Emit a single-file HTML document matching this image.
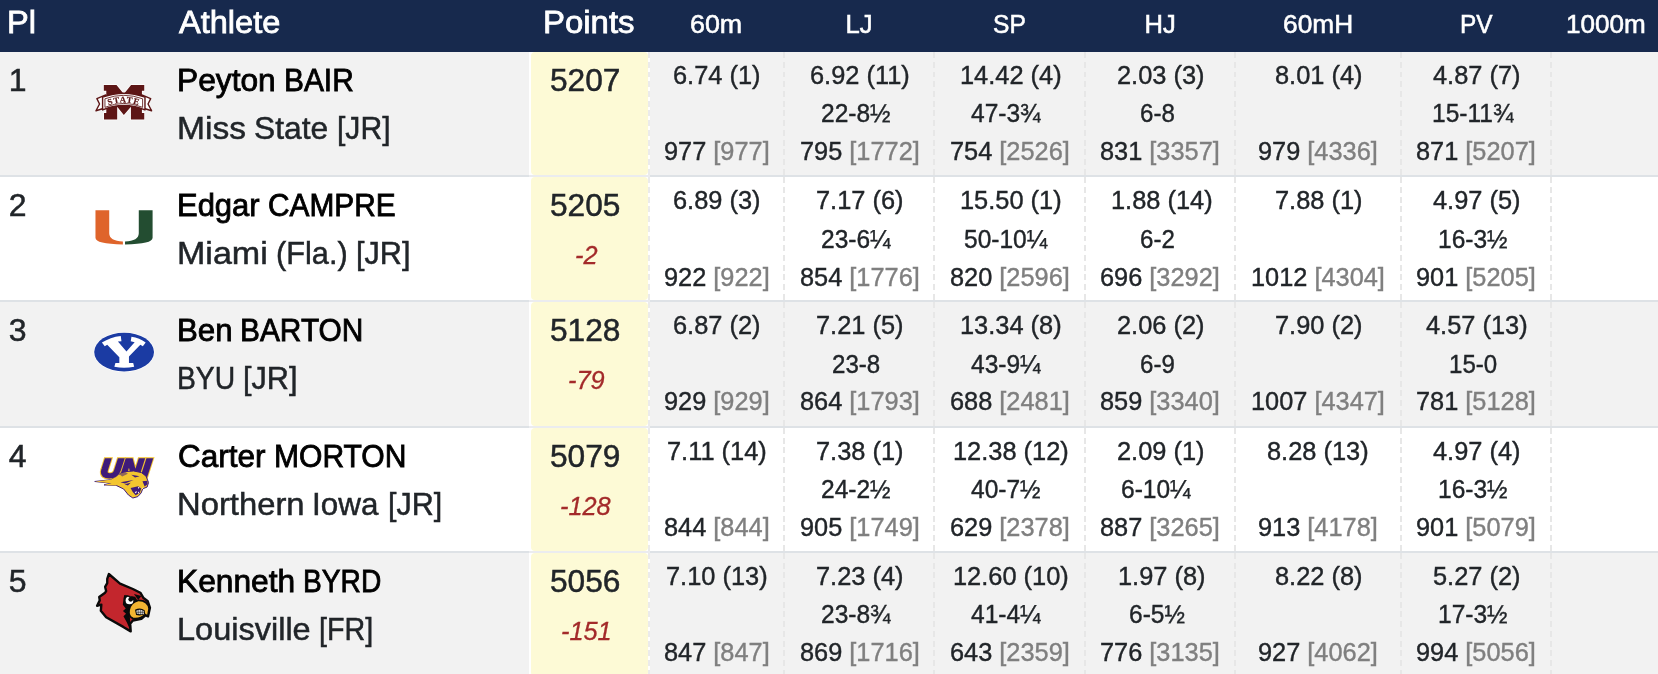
<!DOCTYPE html>
<html lang="en"><head><meta charset="utf-8"><title>Heptathlon Results</title>
<style>
*{margin:0;padding:0;box-sizing:border-box}
html,body{width:1658px;height:674px;overflow:hidden;background:#fff}
body{position:relative;font-family:"Liberation Sans",sans-serif;color:#212529}
.hd{position:absolute;left:0;top:0;width:1658px;height:52px;background:#17294d}
.row{position:absolute;left:0;width:1658px}
.odd{background:#f2f2f2}
.sep{position:absolute;left:0;width:1658px;height:2px;background:#dee2e6}
.pc{position:absolute;left:529px;width:121px;background:#fff}
.pc i{position:absolute;left:2px;right:2px;top:0;bottom:0;background:#fdfad6;border-radius:4px}
.dsh{position:absolute;width:2px}
.sep2{position:absolute;left:529px;width:121px;height:2px;background:#ebecef}
.t{position:absolute;white-space:nowrap;line-height:1;transform-origin:0 50%}
.h{font-size:32px;color:#fff;-webkit-text-stroke:0.8px #fff}
.he{font-size:25.6px;color:#fff;-webkit-text-stroke:0.55px #fff}
.n{font-size:32px;color:#000;-webkit-text-stroke:0.85px #000}
.d{font-size:32px;-webkit-text-stroke:0.5px #212529}
.e{font-size:25.6px;-webkit-text-stroke:0.4px #212529}
.g{color:#7f7f7f;-webkit-text-stroke:0.4px #7f7f7f}
.df{font-size:25.6px;font-style:italic;color:#a32a2a;-webkit-text-stroke:0.3px #a32a2a}
.lg{position:absolute;overflow:visible;will-change:transform}
.tx{position:absolute;left:0;top:0;width:1658px;height:674px;will-change:transform}
</style></head>
<body>
<div class="hd"></div>
<div class="row odd" style="top:52px;height:124px"></div>
<div class="row" style="top:176px;height:125px"></div>
<div class="row odd" style="top:301px;height:126px"></div>
<div class="row" style="top:427px;height:125px"></div>
<div class="row odd" style="top:552px;height:122px"></div>
<div class="sep" style="top:175px"></div>
<div class="sep" style="top:300px"></div>
<div class="sep" style="top:426px"></div>
<div class="sep" style="top:551px"></div>
<div class="pc" style="top:52px;height:123px"><i></i></div>
<div class="pc" style="top:177px;height:123px"><i></i></div>
<div class="pc" style="top:302px;height:124px"><i></i></div>
<div class="pc" style="top:428px;height:123px"><i></i></div>
<div class="pc" style="top:553px;height:123px"><i></i></div>
<div class="dsh" style="left:648px;top:52px;height:123px;background:repeating-linear-gradient(to bottom,#ebebeb 0,#ebebeb 6px,transparent 6px,transparent 9.750px)"></div>
<div class="dsh" style="left:648px;top:177px;height:123px;background:repeating-linear-gradient(to bottom,#ebebeb 0,#ebebeb 6px,transparent 6px,transparent 9.750px)"></div>
<div class="dsh" style="left:648px;top:302px;height:124px;background:repeating-linear-gradient(to bottom,#ebebeb 0,#ebebeb 6px,transparent 6px,transparent 9.833px)"></div>
<div class="dsh" style="left:648px;top:428px;height:123px;background:repeating-linear-gradient(to bottom,#ebebeb 0,#ebebeb 6px,transparent 6px,transparent 9.750px)"></div>
<div class="dsh" style="left:648px;top:553px;height:123px;background:repeating-linear-gradient(to bottom,#ebebeb 0,#ebebeb 6px,transparent 6px,transparent 9.750px)"></div>
<div class="dsh" style="left:783px;top:52px;height:123px;background:repeating-linear-gradient(to bottom,#e7e7e7 0,#e7e7e7 6px,transparent 6px,transparent 9.750px)"></div>
<div class="dsh" style="left:783px;top:177px;height:123px;background:repeating-linear-gradient(to bottom,#e7e7e7 0,#e7e7e7 6px,transparent 6px,transparent 9.750px)"></div>
<div class="dsh" style="left:783px;top:302px;height:124px;background:repeating-linear-gradient(to bottom,#e7e7e7 0,#e7e7e7 6px,transparent 6px,transparent 9.833px)"></div>
<div class="dsh" style="left:783px;top:428px;height:123px;background:repeating-linear-gradient(to bottom,#e7e7e7 0,#e7e7e7 6px,transparent 6px,transparent 9.750px)"></div>
<div class="dsh" style="left:783px;top:553px;height:123px;background:repeating-linear-gradient(to bottom,#e7e7e7 0,#e7e7e7 6px,transparent 6px,transparent 9.750px)"></div>
<div class="dsh" style="left:933px;top:52px;height:123px;background:repeating-linear-gradient(to bottom,#e7e7e7 0,#e7e7e7 6px,transparent 6px,transparent 9.750px)"></div>
<div class="dsh" style="left:933px;top:177px;height:123px;background:repeating-linear-gradient(to bottom,#e7e7e7 0,#e7e7e7 6px,transparent 6px,transparent 9.750px)"></div>
<div class="dsh" style="left:933px;top:302px;height:124px;background:repeating-linear-gradient(to bottom,#e7e7e7 0,#e7e7e7 6px,transparent 6px,transparent 9.833px)"></div>
<div class="dsh" style="left:933px;top:428px;height:123px;background:repeating-linear-gradient(to bottom,#e7e7e7 0,#e7e7e7 6px,transparent 6px,transparent 9.750px)"></div>
<div class="dsh" style="left:933px;top:553px;height:123px;background:repeating-linear-gradient(to bottom,#e7e7e7 0,#e7e7e7 6px,transparent 6px,transparent 9.750px)"></div>
<div class="dsh" style="left:1084px;top:52px;height:123px;background:repeating-linear-gradient(to bottom,#e7e7e7 0,#e7e7e7 6px,transparent 6px,transparent 9.750px)"></div>
<div class="dsh" style="left:1084px;top:177px;height:123px;background:repeating-linear-gradient(to bottom,#e7e7e7 0,#e7e7e7 6px,transparent 6px,transparent 9.750px)"></div>
<div class="dsh" style="left:1084px;top:302px;height:124px;background:repeating-linear-gradient(to bottom,#e7e7e7 0,#e7e7e7 6px,transparent 6px,transparent 9.833px)"></div>
<div class="dsh" style="left:1084px;top:428px;height:123px;background:repeating-linear-gradient(to bottom,#e7e7e7 0,#e7e7e7 6px,transparent 6px,transparent 9.750px)"></div>
<div class="dsh" style="left:1084px;top:553px;height:123px;background:repeating-linear-gradient(to bottom,#e7e7e7 0,#e7e7e7 6px,transparent 6px,transparent 9.750px)"></div>
<div class="dsh" style="left:1234px;top:52px;height:123px;background:repeating-linear-gradient(to bottom,#e7e7e7 0,#e7e7e7 6px,transparent 6px,transparent 9.750px)"></div>
<div class="dsh" style="left:1234px;top:177px;height:123px;background:repeating-linear-gradient(to bottom,#e7e7e7 0,#e7e7e7 6px,transparent 6px,transparent 9.750px)"></div>
<div class="dsh" style="left:1234px;top:302px;height:124px;background:repeating-linear-gradient(to bottom,#e7e7e7 0,#e7e7e7 6px,transparent 6px,transparent 9.833px)"></div>
<div class="dsh" style="left:1234px;top:428px;height:123px;background:repeating-linear-gradient(to bottom,#e7e7e7 0,#e7e7e7 6px,transparent 6px,transparent 9.750px)"></div>
<div class="dsh" style="left:1234px;top:553px;height:123px;background:repeating-linear-gradient(to bottom,#e7e7e7 0,#e7e7e7 6px,transparent 6px,transparent 9.750px)"></div>
<div class="dsh" style="left:1400px;top:52px;height:123px;background:repeating-linear-gradient(to bottom,#e7e7e7 0,#e7e7e7 6px,transparent 6px,transparent 9.750px)"></div>
<div class="dsh" style="left:1400px;top:177px;height:123px;background:repeating-linear-gradient(to bottom,#e7e7e7 0,#e7e7e7 6px,transparent 6px,transparent 9.750px)"></div>
<div class="dsh" style="left:1400px;top:302px;height:124px;background:repeating-linear-gradient(to bottom,#e7e7e7 0,#e7e7e7 6px,transparent 6px,transparent 9.833px)"></div>
<div class="dsh" style="left:1400px;top:428px;height:123px;background:repeating-linear-gradient(to bottom,#e7e7e7 0,#e7e7e7 6px,transparent 6px,transparent 9.750px)"></div>
<div class="dsh" style="left:1400px;top:553px;height:123px;background:repeating-linear-gradient(to bottom,#e7e7e7 0,#e7e7e7 6px,transparent 6px,transparent 9.750px)"></div>
<div class="dsh" style="left:1550px;top:52px;height:123px;background:repeating-linear-gradient(to bottom,#e7e7e7 0,#e7e7e7 6px,transparent 6px,transparent 9.750px)"></div>
<div class="dsh" style="left:1550px;top:177px;height:123px;background:repeating-linear-gradient(to bottom,#e7e7e7 0,#e7e7e7 6px,transparent 6px,transparent 9.750px)"></div>
<div class="dsh" style="left:1550px;top:302px;height:124px;background:repeating-linear-gradient(to bottom,#e7e7e7 0,#e7e7e7 6px,transparent 6px,transparent 9.833px)"></div>
<div class="dsh" style="left:1550px;top:428px;height:123px;background:repeating-linear-gradient(to bottom,#e7e7e7 0,#e7e7e7 6px,transparent 6px,transparent 9.750px)"></div>
<div class="dsh" style="left:1550px;top:553px;height:123px;background:repeating-linear-gradient(to bottom,#e7e7e7 0,#e7e7e7 6px,transparent 6px,transparent 9.750px)"></div>
<div class="sep2" style="top:175px"></div>
<div class="sep2" style="top:300px"></div>
<div class="sep2" style="top:426px"></div>
<div class="sep2" style="top:551px"></div>
<svg class="lg" style="left:88px;top:78px" width="72" height="48" viewBox="0 0 1011 674"><g stroke-linejoin="round">
<path d="M222,100H400L503,225L605,100H790V180H757V490H790V583H603V405L503,520L410,405V583H225V490H257V180H222Z" fill="#5d1616" stroke="#fff" stroke-width="22"/>
<path d="M222,100H400L503,225L605,100H790V180H757V490H790V583H603V405L503,520L410,405V583H225V490H257V180H222Z" fill="#5d1616"/>
<path d="M250,238L125,290L162,365L112,460L215,428Z" fill="#fff" stroke="#5d1616" stroke-width="20"/>
<path d="M755,238L880,290L843,365L893,460L790,428Z" fill="#fff" stroke="#5d1616" stroke-width="20"/>
<path d="M205,268Q503,160 800,268V448Q503,325 205,448Z" fill="#fff" stroke="#5d1616" stroke-width="20"/>
<path d="M238,292Q503,194 767,292V412Q503,302 238,412Z" fill="#fff" stroke="#5d1616" stroke-width="12"/>
</g>
<path id="msarc" d="M258,396Q503,294 748,396" fill="none"/>
<text font-family="'Liberation Serif',serif" font-weight="bold" font-size="122" fill="#5d1616" stroke="#5d1616" stroke-width="3" letter-spacing="11" text-anchor="middle"><textPath href="#msarc" startOffset="50%">STATE</textPath></text></svg>
<svg class="lg" style="left:88px;top:203px" width="72" height="48" viewBox="0 0 1011 674"><path d="M105,102H298V425Q300,532 490,542V582Q105,576 105,488Z" fill="#df642b"/>
<path d="M907,102H713V425Q711,532 520,542V582Q907,576 907,488Z" fill="#234d31"/></svg>
<svg class="lg" style="left:88px;top:328px" width="72" height="48" viewBox="0 0 1011 674"><ellipse cx="507" cy="338" rx="428" ry="280" fill="#fff"/>
<ellipse cx="507" cy="338" rx="420" ry="272" fill="#1b3ba3"/>
<path d="M195,205Q315,128 460,112L470,185L420,190L540,330L655,200L600,185L610,122Q725,138 810,205L770,255L735,235L575,400V490H635L648,545Q505,572 370,545L385,490H440V410L270,235L235,255Z" fill="#fff"/></svg>
<svg class="lg" style="left:88px;top:453px" width="72" height="48" viewBox="0 0 1011 674"><g transform="translate(168,335) skewX(-6)">
<text x="0" y="0" font-family="'Liberation Sans',sans-serif" font-weight="bold" font-style="italic" font-size="360" textLength="690" lengthAdjust="spacingAndGlyphs" fill="#3f1b7a" stroke="#f4c531" stroke-width="58" paint-order="stroke" stroke-linejoin="miter">UNI</text>
<text x="0" y="0" font-family="'Liberation Sans',sans-serif" font-weight="bold" font-style="italic" font-size="360" textLength="690" lengthAdjust="spacingAndGlyphs" fill="#3f1b7a" stroke="#3f1b7a" stroke-width="34" stroke-linejoin="miter">UNI</text>
</g>
<path d="M95,400L320,375L400,335L455,285L520,262L640,252L750,275L815,325L850,415L830,478L770,502L745,562L700,612L630,632L568,590L500,505L395,455L225,448L325,425Z" fill="#f3c52f" stroke="#3f1b7a" stroke-width="14" stroke-linejoin="round"/>
<path d="M95,400L320,375L400,335L440,300L470,380L400,420L325,425Z" fill="#f3c52f"/>
<path d="M225,448L325,425L420,425L395,455Z" fill="#f3c52f"/>
<path d="M598,492L705,468L748,498L725,560L668,594L628,548Z" fill="#3f1b7a"/>
<path d="M608,306L725,328L660,344Z" fill="#3f1b7a"/>
<path d="M455,410L640,378L520,428ZM515,440L600,416L560,455ZM765,398L835,388L838,440L795,470Z" fill="#3f1b7a"/>
<path d="M440,300L520,262L560,290L480,330Z" fill="#3f1b7a" opacity=".55"/>
<path d="M700,478L722,480L712,506ZM655,546L690,536L672,570ZM700,550L718,542L712,574ZM760,490L778,486L770,512Z" fill="#fff"/></svg>
<svg class="lg" style="left:88px;top:566px" width="72" height="72" viewBox="0 0 674 674"><path d="M195,75L300,165L420,215L490,250L520,300L560,330L580,390L562,472L540,460L500,495L420,510L395,540L400,612L330,570L170,480L120,420L125,362L85,372L110,322L105,290L160,250L170,235L160,195L180,160L180,120Z" fill="#c3262d" stroke="#0a0a0a" stroke-width="22" stroke-linejoin="round"/>
<path d="M340,272L440,288L468,330L405,388L388,440L398,545L400,612L364,530L332,470L356,446L327,421L353,398L326,362L333,300Z" fill="#0a0a0a"/>
<path d="M430,262L500,280L470,318Z" fill="#0a0a0a"/>
<path d="M470,322Q560,320 572,400L560,470L535,455Q490,500 420,490Q375,470 385,410Q400,340 470,322Z" fill="#f3b532" stroke="#0a0a0a" stroke-width="16" stroke-linejoin="round"/>
<path d="M440,410Q490,385 530,415L535,450Q490,470 450,458Z" fill="#0a0a0a"/>
<path d="M452,418Q490,400 522,422L524,446Q490,458 458,448Z" fill="#e8e8e8"/>
<path d="M470,410V455M490,405V458M508,410V455M455,433H525" stroke="#0a0a0a" stroke-width="5"/>
<circle cx="388" cy="322" r="36" fill="#fff"/>
<circle cx="400" cy="312" r="22" fill="#0a0a0a"/>
<path d="M350,270L450,300L440,330Z" fill="#0a0a0a"/></svg>
<div class="tx">
<span class="t h" style="left:7.36px;top:6.41px;transform:scaleX(1.0187);">Pl</span>
<span class="t h" style="left:178.50px;top:6.41px;transform:scaleX(1.0169);">Athlete</span>
<span class="t h" style="left:543.34px;top:6.41px;transform:scaleX(1.0287);">Points</span>
<span class="t he" style="left:690.45px;top:11.63px;transform:scaleX(1.0491);">60m</span>
<span class="t he" style="left:845.58px;top:11.63px;">LJ</span>
<span class="t he" style="left:993.44px;top:11.63px;transform:scaleX(0.9604);">SP</span>
<span class="t he" style="left:1144.56px;top:11.63px;">HJ</span>
<span class="t he" style="left:1283.17px;top:11.63px;transform:scaleX(1.0275);">60mH</span>
<span class="t he" style="left:1459.59px;top:11.63px;transform:scaleX(0.9541);">PV</span>
<span class="t he" style="left:1565.88px;top:11.63px;transform:scaleX(1.0193);">1000m</span>
<span class="t d" style="left:8.80px;top:63.91px;">1</span>
<span class="t n" style="left:176.89px;top:63.91px;transform:scaleX(0.9909);">Peyton</span>
<span class="t n" style="left:283.64px;top:63.91px;transform:scaleX(0.9341);">BAIR</span>
<span class="t d" style="left:176.77px;top:111.91px;transform:scaleX(1.0489);">Miss</span>
<span class="t d" style="left:254.37px;top:111.91px;transform:scaleX(0.9928);">State</span>
<span class="t d" style="left:336.95px;top:111.91px;transform:scaleX(0.9403);">[JR]</span>
<span class="t d" style="left:549.76px;top:63.91px;transform:scaleX(0.9900);">5207</span>
<span class="t e" style="left:672.91px;top:62.53px;transform:scaleX(0.9920);">6.74 (1)</span>
<span class="t e" style="left:663.62px;top:139.38px;transform:scaleX(0.9900);">977 <span class="g">[977]</span></span>
<span class="t e" style="left:809.99px;top:62.53px;transform:scaleX(0.9920);">6.92 (11)</span>
<span class="t e" style="left:821.03px;top:100.93px;transform:scaleX(0.9580);">22-8½</span>
<span class="t e" style="left:799.77px;top:139.38px;transform:scaleX(0.9900);">795 <span class="g">[1772]</span></span>
<span class="t e" style="left:959.75px;top:62.53px;transform:scaleX(0.9920);">14.42 (4)</span>
<span class="t e" style="left:970.93px;top:100.93px;transform:scaleX(0.9580);">47-3¾</span>
<span class="t e" style="left:949.67px;top:139.38px;transform:scaleX(0.9900);">754 <span class="g">[2526]</span></span>
<span class="t e" style="left:1116.81px;top:62.53px;transform:scaleX(0.9920);">2.03 (3)</span>
<span class="t e" style="left:1139.55px;top:100.93px;transform:scaleX(0.9400);">6-8</span>
<span class="t e" style="left:1100.47px;top:139.38px;transform:scaleX(0.9900);">831 <span class="g">[3357]</span></span>
<span class="t e" style="left:1274.51px;top:62.53px;transform:scaleX(0.9920);">8.01 (4)</span>
<span class="t e" style="left:1258.17px;top:139.38px;transform:scaleX(0.9900);">979 <span class="g">[4336]</span></span>
<span class="t e" style="left:1433.01px;top:62.53px;transform:scaleX(0.9920);">4.87 (7)</span>
<span class="t e" style="left:1431.84px;top:100.93px;transform:scaleX(0.9580);">15-11¾</span>
<span class="t e" style="left:1416.17px;top:139.38px;transform:scaleX(0.9900);">871 <span class="g">[5207]</span></span>
<span class="t d" style="left:8.80px;top:188.91px;">2</span>
<span class="t n" style="left:176.93px;top:188.91px;transform:scaleX(0.9675);">Edgar</span>
<span class="t n" style="left:268.38px;top:188.91px;transform:scaleX(0.9327);">CAMPRE</span>
<span class="t d" style="left:176.74px;top:236.91px;transform:scaleX(1.0631);">Miami</span>
<span class="t d" style="left:275.53px;top:236.91px;transform:scaleX(0.9599);">(Fla.)</span>
<span class="t d" style="left:356.00px;top:236.91px;transform:scaleX(0.9558);">[JR]</span>
<span class="t d" style="left:549.76px;top:188.91px;transform:scaleX(0.9900);">5205</span>
<span class="t df" style="left:574.66px;top:242.53px;transform:scaleX(0.9900);">-2</span>
<span class="t e" style="left:672.91px;top:187.53px;transform:scaleX(0.9920);">6.89 (3)</span>
<span class="t e" style="left:663.62px;top:264.53px;transform:scaleX(0.9900);">922 <span class="g">[922]</span></span>
<span class="t e" style="left:816.11px;top:187.53px;transform:scaleX(0.9920);">7.17 (6)</span>
<span class="t e" style="left:820.55px;top:227.03px;transform:scaleX(0.9580);">23-6¼</span>
<span class="t e" style="left:799.77px;top:264.53px;transform:scaleX(0.9900);">854 <span class="g">[1776]</span></span>
<span class="t e" style="left:959.75px;top:187.53px;transform:scaleX(0.9920);">15.50 (1)</span>
<span class="t e" style="left:963.63px;top:227.03px;transform:scaleX(0.9580);">50-10¼</span>
<span class="t e" style="left:949.67px;top:264.53px;transform:scaleX(0.9900);">820 <span class="g">[2596]</span></span>
<span class="t e" style="left:1110.55px;top:187.53px;transform:scaleX(0.9920);">1.88 (14)</span>
<span class="t e" style="left:1140.02px;top:227.03px;transform:scaleX(0.9400);">6-2</span>
<span class="t e" style="left:1100.47px;top:264.53px;transform:scaleX(0.9900);">696 <span class="g">[3292]</span></span>
<span class="t e" style="left:1274.51px;top:187.53px;transform:scaleX(0.9920);">7.88 (1)</span>
<span class="t e" style="left:1251.13px;top:264.53px;transform:scaleX(0.9900);">1012 <span class="g">[4304]</span></span>
<span class="t e" style="left:1433.01px;top:187.53px;transform:scaleX(0.9920);">4.97 (5)</span>
<span class="t e" style="left:1438.23px;top:227.03px;transform:scaleX(0.9580);">16-3½</span>
<span class="t e" style="left:1416.17px;top:264.53px;transform:scaleX(0.9900);">901 <span class="g">[5205]</span></span>
<span class="t d" style="left:8.80px;top:313.91px;">3</span>
<span class="t n" style="left:176.92px;top:313.91px;transform:scaleX(0.9764);">Ben</span>
<span class="t n" style="left:240.17px;top:313.91px;transform:scaleX(0.9335);">BARTON</span>
<span class="t d" style="left:177.10px;top:361.91px;transform:scaleX(0.8843);">BYU</span>
<span class="t d" style="left:243.20px;top:361.91px;transform:scaleX(0.9558);">[JR]</span>
<span class="t d" style="left:549.76px;top:313.91px;transform:scaleX(0.9900);">5128</span>
<span class="t df" style="left:567.61px;top:367.53px;transform:scaleX(0.9900);">-79</span>
<span class="t e" style="left:672.91px;top:312.53px;transform:scaleX(0.9920);">6.87 (2)</span>
<span class="t e" style="left:663.62px;top:389.48px;transform:scaleX(0.9900);">929 <span class="g">[929]</span></span>
<span class="t e" style="left:816.11px;top:312.53px;transform:scaleX(0.9920);">7.21 (5)</span>
<span class="t e" style="left:832.16px;top:352.23px;transform:scaleX(0.9400);">23-8</span>
<span class="t e" style="left:799.77px;top:389.48px;transform:scaleX(0.9900);">864 <span class="g">[1793]</span></span>
<span class="t e" style="left:959.75px;top:312.53px;transform:scaleX(0.9920);">13.34 (8)</span>
<span class="t e" style="left:970.93px;top:352.23px;transform:scaleX(0.9580);">43-9¼</span>
<span class="t e" style="left:949.67px;top:389.48px;transform:scaleX(0.9900);">688 <span class="g">[2481]</span></span>
<span class="t e" style="left:1116.81px;top:312.53px;transform:scaleX(0.9920);">2.06 (2)</span>
<span class="t e" style="left:1139.55px;top:352.23px;transform:scaleX(0.9400);">6-9</span>
<span class="t e" style="left:1100.47px;top:389.48px;transform:scaleX(0.9900);">859 <span class="g">[3340]</span></span>
<span class="t e" style="left:1274.51px;top:312.53px;transform:scaleX(0.9920);">7.90 (2)</span>
<span class="t e" style="left:1251.13px;top:389.48px;transform:scaleX(0.9900);">1007 <span class="g">[4347]</span></span>
<span class="t e" style="left:1425.95px;top:312.53px;transform:scaleX(0.9920);">4.57 (13)</span>
<span class="t e" style="left:1449.36px;top:352.23px;transform:scaleX(0.9400);">15-0</span>
<span class="t e" style="left:1416.17px;top:389.48px;transform:scaleX(0.9900);">781 <span class="g">[5128]</span></span>
<span class="t d" style="left:8.80px;top:439.91px;">4</span>
<span class="t n" style="left:177.88px;top:439.91px;transform:scaleX(0.9830);">Carter</span>
<span class="t n" style="left:273.59px;top:439.91px;transform:scaleX(0.9390);">MORTON</span>
<span class="t d" style="left:176.82px;top:487.91px;transform:scaleX(1.0246);">Northern</span>
<span class="t d" style="left:311.85px;top:487.91px;transform:scaleX(0.9818);">Iowa</span>
<span class="t d" style="left:388.20px;top:487.91px;transform:scaleX(0.9519);">[JR]</span>
<span class="t d" style="left:549.76px;top:439.91px;transform:scaleX(0.9900);">5079</span>
<span class="t df" style="left:560.07px;top:493.53px;transform:scaleX(0.9900);">-128</span>
<span class="t e" style="left:666.79px;top:438.53px;transform:scaleX(0.9920);">7.11 (14)</span>
<span class="t e" style="left:663.62px;top:515.23px;transform:scaleX(0.9900);">844 <span class="g">[844]</span></span>
<span class="t e" style="left:816.11px;top:438.53px;transform:scaleX(0.9920);">7.38 (1)</span>
<span class="t e" style="left:821.03px;top:477.13px;transform:scaleX(0.9580);">24-2½</span>
<span class="t e" style="left:799.77px;top:515.23px;transform:scaleX(0.9900);">905 <span class="g">[1749]</span></span>
<span class="t e" style="left:952.69px;top:438.53px;transform:scaleX(0.9920);">12.38 (12)</span>
<span class="t e" style="left:971.40px;top:477.13px;transform:scaleX(0.9580);">40-7½</span>
<span class="t e" style="left:949.67px;top:515.23px;transform:scaleX(0.9900);">629 <span class="g">[2378]</span></span>
<span class="t e" style="left:1116.81px;top:438.53px;transform:scaleX(0.9920);">2.09 (1)</span>
<span class="t e" style="left:1121.25px;top:477.13px;transform:scaleX(0.9580);">6-10¼</span>
<span class="t e" style="left:1100.47px;top:515.23px;transform:scaleX(0.9900);">887 <span class="g">[3265]</span></span>
<span class="t e" style="left:1267.45px;top:438.53px;transform:scaleX(0.9920);">8.28 (13)</span>
<span class="t e" style="left:1258.17px;top:515.23px;transform:scaleX(0.9900);">913 <span class="g">[4178]</span></span>
<span class="t e" style="left:1433.01px;top:438.53px;transform:scaleX(0.9920);">4.97 (4)</span>
<span class="t e" style="left:1438.23px;top:477.13px;transform:scaleX(0.9580);">16-3½</span>
<span class="t e" style="left:1416.17px;top:515.23px;transform:scaleX(0.9900);">901 <span class="g">[5079]</span></span>
<span class="t d" style="left:8.80px;top:564.91px;">5</span>
<span class="t n" style="left:176.88px;top:564.91px;transform:scaleX(0.9915);">Kenneth</span>
<span class="t n" style="left:302.83px;top:564.91px;transform:scaleX(0.8797);">BYRD</span>
<span class="t d" style="left:176.84px;top:612.91px;transform:scaleX(1.0157);">Louisville</span>
<span class="t d" style="left:319.20px;top:612.91px;transform:scaleX(0.8958);">[FR]</span>
<span class="t d" style="left:549.76px;top:564.91px;transform:scaleX(0.9900);">5056</span>
<span class="t df" style="left:561.06px;top:618.53px;transform:scaleX(0.9900);">-151</span>
<span class="t e" style="left:665.85px;top:563.53px;transform:scaleX(0.9920);">7.10 (13)</span>
<span class="t e" style="left:663.62px;top:639.98px;transform:scaleX(0.9900);">847 <span class="g">[847]</span></span>
<span class="t e" style="left:816.11px;top:563.53px;transform:scaleX(0.9920);">7.23 (4)</span>
<span class="t e" style="left:820.55px;top:602.43px;transform:scaleX(0.9580);">23-8¾</span>
<span class="t e" style="left:799.77px;top:639.98px;transform:scaleX(0.9900);">869 <span class="g">[1716]</span></span>
<span class="t e" style="left:952.69px;top:563.53px;transform:scaleX(0.9920);">12.60 (10)</span>
<span class="t e" style="left:970.93px;top:602.43px;transform:scaleX(0.9580);">41-4¼</span>
<span class="t e" style="left:949.67px;top:639.98px;transform:scaleX(0.9900);">643 <span class="g">[2359]</span></span>
<span class="t e" style="left:1117.61px;top:563.53px;transform:scaleX(0.9920);">1.97 (8)</span>
<span class="t e" style="left:1128.54px;top:602.43px;transform:scaleX(0.9580);">6-5½</span>
<span class="t e" style="left:1100.47px;top:639.98px;transform:scaleX(0.9900);">776 <span class="g">[3135]</span></span>
<span class="t e" style="left:1274.51px;top:563.53px;transform:scaleX(0.9920);">8.22 (8)</span>
<span class="t e" style="left:1258.17px;top:639.98px;transform:scaleX(0.9900);">927 <span class="g">[4062]</span></span>
<span class="t e" style="left:1432.51px;top:563.53px;transform:scaleX(0.9920);">5.27 (2)</span>
<span class="t e" style="left:1438.23px;top:602.43px;transform:scaleX(0.9580);">17-3½</span>
<span class="t e" style="left:1416.17px;top:639.98px;transform:scaleX(0.9900);">994 <span class="g">[5056]</span></span>
</div>
</body></html>
